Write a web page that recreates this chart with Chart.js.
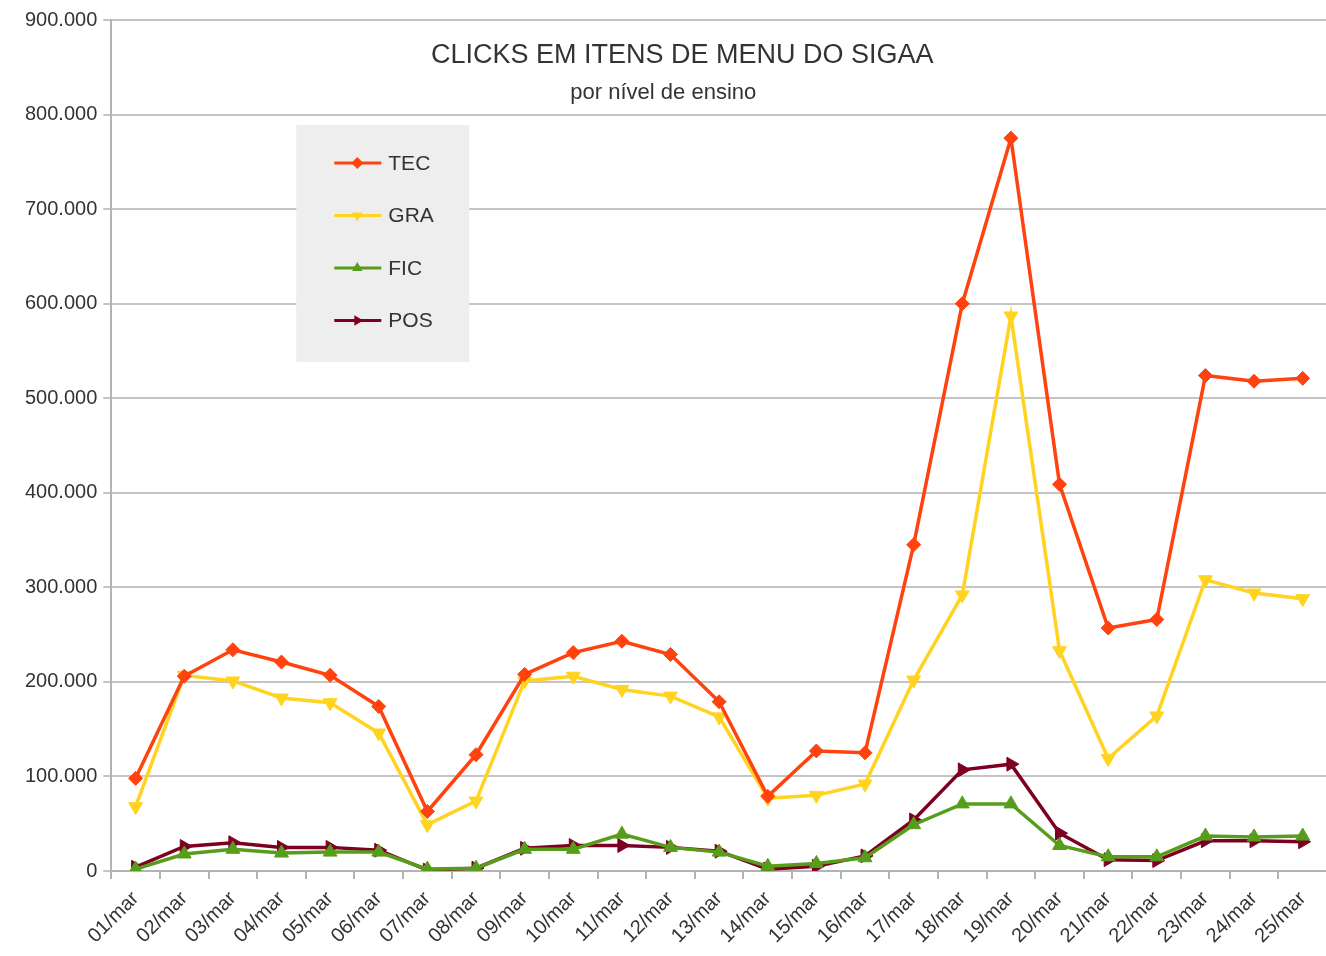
<!DOCTYPE html>
<html>
<head>
<meta charset="utf-8">
<script src="https://cdn.jsdelivr.net/npm/chart.js@4.4.1/dist/chart.umd.min.js"></script>
<style>
  html, body { margin: 0; padding: 0; background: #fff; overflow: hidden; }
  #wrap { width: 1336px; height: 956px; }
</style>
</head>
<body>
<div id="wrap"><canvas id="grafico"></canvas></div>
<script>
// dados
var dias = ['01/mar', '02/mar', '03/mar', '04/mar', '05/mar', '06/mar', '07/mar', '08/mar', '09/mar', '10/mar',
    '11/mar', '12/mar', '13/mar', '14/mar', '15/mar', '16/mar', '17/mar', '18/mar', '19/mar', '20/mar',
    '21/mar', '22/mar', '23/mar', '24/mar', '25/mar']
var tec = [98000, 206000, 234000, 221000, 207000, 174000, 63000, 123000, 208000, 231000,
    243000, 229000, 179000, 79000, 127000, 125000, 345000, 600000, 775000, 409000,
    257000, 266000, 524000, 518000, 521000]
var gra = [68000, 207000, 201000, 183000, 178000, 146000, 49000, 74000, 201000, 206000,
    192000, 185000, 163000, 77000, 80000, 92000, 202000, 292000, 587000, 233000,
    119000, 164000, 308000, 294000, 288000]
var fic = [2000, 18000, 23000, 19000, 20000, 20000, 2000, 3000, 23000, 23000,
    39000, 25000, 20000, 5000, 8000, 14000, 49000, 71000, 71000, 27000,
    15000, 15000, 37000, 36000, 37000]
var pos = [4000, 26000, 30000, 25000, 25000, 22000, 1000, 3000, 24000, 27000,
    27000, 25000, 21000, 2000, 5000, 16000, 54000, 107000, 113000, 40000,
    12000, 11000, 32000, 32000, 31000]

var titulo = 'CLICKS EM ITENS DE MENU DO SIGAA'
var subtitulo = 'por nível de ensino'

const fonte = '"Liberation Sans", Arial, sans-serif'

function serie(nome, dados, cor, estilo, rotacao, raio) {
    return {
        label: nome,
        data: dados,
        borderColor: cor,
        backgroundColor: cor,
        borderWidth: 3.5,
        pointStyle: estilo,
        rotation: rotacao,
        pointRadius: raio,
        pointHoverRadius: raio,
        pointBorderWidth: 1,
        tension: 0
    }
}

// titulo e legenda desenhados dentro da area do grafico
const tituloELegenda = {
    id: 'tituloELegenda',
    beforeDatasetsDraw(chart) {
        const ctx = chart.ctx
        const area = chart.chartArea
        const bx = area.left + 185, by = area.top + 105
        ctx.save()
        ctx.fillStyle = '#eeeeee'
        ctx.fillRect(bx, by, 173, 237)
        ctx.font = '21px ' + fonte
        ctx.textBaseline = 'middle'
        chart.data.datasets.forEach((ds, i) => {
            const y = by + 38 + i * 52.5
            ctx.strokeStyle = ds.borderColor
            ctx.lineWidth = 3
            ctx.beginPath()
            ctx.moveTo(bx + 38, y)
            ctx.lineTo(bx + 85, y)
            ctx.stroke()
            ctx.fillStyle = ds.backgroundColor
            Chart.helpers.drawPoint(ctx, { pointStyle: ds.pointStyle, rotation: ds.rotation, radius: 6, borderWidth: 0 }, bx + 61, y)
            ctx.fillStyle = '#333333'
            ctx.fillText(ds.label, bx + 92, y + 1)
        })
        ctx.restore()
    },
    afterDraw(chart) {
        const ctx = chart.ctx
        const area = chart.chartArea
        ctx.save()
        ctx.fillStyle = '#333333'
        ctx.textAlign = 'center'
        ctx.textBaseline = 'middle'
        ctx.font = '27px ' + fonte
        ctx.fillText(titulo, area.left + 571, area.top + 36)
        ctx.font = '22px ' + fonte
        ctx.fillText(subtitulo, area.left + 552, area.top + 73)
        ctx.restore()
    }
}

new Chart(document.getElementById('grafico'), {
    type: 'line',
    data: {
        labels: dias,
        datasets: [
            serie('TEC', tec, '#ff420e', 'rectRot', 0, 7),
            serie('GRA', gra, '#ffd320', 'triangle', 180, 8),
            serie('FIC', fic, '#579d1c', 'triangle', 0, 8),
            serie('POS', pos, '#7e0021', 'triangle', 90, 8)
        ]
    },
    options: {
        responsive: true,
        maintainAspectRatio: false,
        animation: false,
        layout: { padding: { top: 20, left: 19, right: 0, bottom: 0 } },
        plugins: {
            legend: { display: false },
            title: { display: false },
            tooltip: { enabled: false }
        },
        scales: {
            x: {
                offset: true,
                grid: {
                    offset: true,
                    drawOnChartArea: false,
                    drawTicks: true,
                    tickLength: 8,
                    color: '#b3b3b3',
                    lineWidth: 2
                },
                border: { color: '#b3b3b3', width: 2 },
                ticks: {
                    color: '#333333',
                    font: { family: fonte, size: 20 },
                    maxRotation: 45,
                    minRotation: 45,
                    autoSkip: false,
                    padding: 8
                }
            },
            y: {
                min: 0,
                max: 900000,
                grid: {
                    color: '#c4c4c4',
                    lineWidth: 2,
                    tickLength: 8
                },
                border: { color: '#b3b3b3', width: 2 },
                ticks: {
                    stepSize: 100000,
                    color: '#333333',
                    font: { family: fonte, size: 20 },
                    padding: 6,
                    callback: (v) => String(v).replace(/\B(?=(\d{3})+(?!\d))/g, '.')
                }
            }
        }
    },
    plugins: [tituloELegenda]
})
</script>
</body>
</html>
